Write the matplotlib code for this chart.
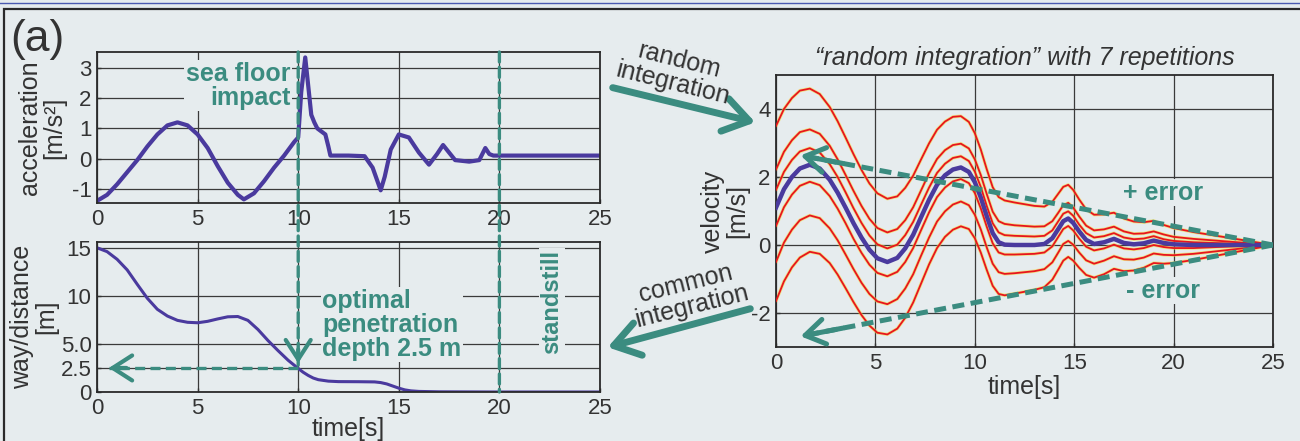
import numpy as np
import matplotlib.pyplot as plt
from matplotlib.patches import FancyArrowPatch, ConnectionPatch, Rectangle
from matplotlib.lines import Line2D

plt.rcParams['font.family'] = ['Liberation Sans', 'DejaVu Sans']
plt.rcParams['axes.unicode_minus'] = False

# acceleration record (top left)
acc_t = [0, 0.5, 1, 1.5, 2, 2.5, 3, 3.5, 4, 4.5, 5, 5.5, 6, 6.5, 7, 7.3, 7.8, 8.3, 8.8, 9.3,
         9.8, 10.0, 10.15, 10.35, 10.5, 10.65, 10.8, 10.95, 11.15, 11.35, 11.5, 11.6, 12.5, 13.3,
         13.7, 14.1, 14.3, 14.6, 15.0, 15.5, 16.0, 16.5, 16.9, 17.2, 17.5, 17.8, 18.5, 19.0,
         19.3, 19.5, 19.7, 20.5, 22, 25]
acc_v = [-1.4, -1.2, -0.85, -0.45, -0.05, 0.4, 0.8, 1.1, 1.2, 1.1, 0.8, 0.35, -0.25, -0.8, -1.2, -1.35,
         -1.15, -0.75, -0.3, 0.1, 0.55, 0.7, 2.2, 3.35, 2.4, 1.45, 1.2, 1.0, 0.9, 0.8, 0.4, 0.1, 0.1, 0.08,
         -0.3, -1.05, -0.6, 0.3, 0.8, 0.7, 0.2, -0.2, 0.15, 0.45, 0.2, -0.05, -0.1, -0.05,
         0.35, 0.15, 0.1, 0.1, 0.1, 0.1]

# way / distance (bottom left)
dist_t = [0, 0.5, 1, 1.5, 2, 2.5, 3, 3.5, 4, 4.5, 5, 5.5, 6, 6.5, 7, 7.5, 8, 8.5, 9, 9.5, 10,
          10.25, 10.5, 10.75, 11, 11.5, 12, 13, 13.8, 14.1, 14.4, 14.7, 15.0, 15.3, 15.6, 16, 17,
          20, 25]
dist_v = [15.0, 14.6, 13.8, 12.7, 11.2, 9.75, 8.6, 7.9, 7.45, 7.25, 7.2, 7.35, 7.6, 7.82, 7.85, 7.45,
          6.5, 5.35, 4.3, 3.3, 2.45, 2.05, 1.72, 1.45, 1.28, 1.13, 1.08, 1.07, 1.05, 0.98, 0.84, 0.62,
          0.4, 0.22, 0.12, 0.06, 0.02, 0, 0]

# velocity (right): common integration and the random repetitions
vel_t = [0, 0.4, 0.8, 1.2, 1.7, 2.2, 2.7, 3.1, 3.5, 3.9, 4.3, 4.7, 5.1, 5.6, 6.1, 6.5, 6.9, 7.3,
         7.7, 8.1, 8.5, 8.9, 9.3, 9.7, 10.0, 10.3, 10.6, 10.9, 11.2, 11.5, 12.0, 13.0, 13.5, 13.9,
         14.2, 14.45, 14.7, 14.95, 15.25, 15.6, 16.0, 16.5, 17.0, 17.5, 18.0, 18.5, 19.0, 19.5,
         20.0, 21, 23, 25]
vel_common = [1.1, 1.64, 2.0, 2.25, 2.36, 2.25, 1.92, 1.54, 1.10, 0.64, 0.22, -0.14, -0.39, -0.5,
              -0.38, -0.1, 0.3, 0.82, 1.33, 1.77, 2.05, 2.22, 2.28, 2.15, 1.85, 1.4, 0.85, 0.35,
              0.08, 0.01, 0, 0, 0.03, 0.2, 0.47, 0.7, 0.78, 0.65, 0.4, 0.15, 0.03, 0.08, 0.18,
              0.06, 0.02, 0.05, 0.13, 0.06, 0.02, 0, 0, 0]
vel_random = [
    [3.50, 4.00, 4.32, 4.54, 4.60, 4.44, 4.06, 3.64, 3.16, 2.67, 2.21, 1.81, 1.52, 1.36, 1.43, 1.68,
     2.04, 2.52, 2.99, 3.39, 3.63, 3.77, 3.79, 3.62, 3.29, 2.81, 2.23, 1.70, 1.41, 1.31, 1.25, 1.15,
     1.13, 1.27, 1.51, 1.71, 1.77, 1.62, 1.34, 1.05, 0.89, 0.90, 0.95, 0.78, 0.69, 0.67, 0.71, 0.59,
     0.50, 0.38, 0.19, 0],
    [2.22, 2.74, 3.08, 3.32, 3.40, 3.27, 2.92, 2.52, 2.06, 1.59, 1.15, 0.77, 0.50, 0.37, 0.47, 0.73,
     1.11, 1.61, 2.11, 2.53, 2.79, 2.94, 2.98, 2.84, 2.52, 2.06, 1.50, 0.98, 0.70, 0.62, 0.58, 0.54,
     0.55, 0.70, 0.95, 1.17, 1.24, 1.10, 0.84, 0.57, 0.43, 0.46, 0.54, 0.40, 0.33, 0.34, 0.40, 0.31,
     0.24, 0.18, 0.09, 0],
    [1.62, 2.15, 2.50, 2.75, 2.85, 2.72, 2.38, 2.00, 1.55, 1.08, 0.65, 0.28, 0.02, -0.10, 0.01, 0.29,
     0.68, 1.19, 1.69, 2.12, 2.39, 2.56, 2.61, 2.47, 2.16, 1.71, 1.15, 0.64, 0.37, 0.29, 0.27, 0.25,
     0.27, 0.43, 0.70, 0.92, 0.99, 0.86, 0.60, 0.35, 0.22, 0.26, 0.35, 0.22, 0.17, 0.19, 0.26, 0.17,
     0.12, 0.08, 0.04, 0],
    [0.56, 1.11, 1.48, 1.74, 1.86, 1.76, 1.44, 1.07, 0.64, 0.18, -0.23, -0.58, -0.82, -0.92, -0.79,
     -0.50, -0.09, 0.44, 0.96, 1.41, 1.69, 1.87, 1.94, 1.82, 1.53, 1.08, 0.54, 0.05, -0.22, -0.28,
     -0.28, -0.26, -0.22, -0.04, 0.24, 0.47, 0.56, 0.43, 0.19, -0.05, -0.16, -0.10, 0.01, -0.10,
     -0.13, -0.09, 0.0, -0.06, -0.09, -0.09, -0.04, 0],
    [-0.50, 0.07, 0.45, 0.73, 0.87, 0.79, 0.49, 0.14, -0.28, -0.71, -1.11, -1.44, -1.66, -1.74, -1.59,
     -1.28, -0.86, -0.31, 0.22, 0.69, 0.99, 1.19, 1.28, 1.17, 0.89, 0.46, -0.07, -0.55, -0.80, -0.85,
     -0.83, -0.77, -0.71, -0.51, -0.22, 0.03, 0.12, 0.01, -0.22, -0.45, -0.55, -0.46, -0.33, -0.42,
     -0.43, -0.37, -0.25, -0.29, -0.30, -0.26, -0.13, 0],
    [-1.65, -1.07, -0.66, -0.37, -0.20, -0.26, -0.53, -0.87, -1.27, -1.68, -2.06, -2.37, -2.58, -2.63,
     -2.46, -2.14, -1.69, -1.13, -0.57, -0.09, 0.24, 0.45, 0.55, 0.47, 0.20, -0.22, -0.73, -1.20,
     -1.44, -1.48, -1.43, -1.32, -1.24, -1.02, -0.72, -0.46, -0.35, -0.46, -0.67, -0.88, -0.96,
     -0.86, -0.70, -0.77, -0.75, -0.67, -0.53, -0.55, -0.53, -0.44, -0.22, 0],
]

time_ticks = [0, 5, 10, 15, 20, 25]
acc_ticks = [-1, 0, 1, 2, 3]
dist_ticks = [0, 2.5, 5.0, 10, 15]
dist_labels = ['0', '2.5', '5.0', '10', '15']
vel_ticks = [-2, 0, 2, 4]

impact_t = 10
standstill_t = 20
depth = 2.5
err_tip_t = 1.1
err_plus = 2.65
err_minus = -2.7

bg = '#e6ecee'
teal = '#3b8c80'
blue = '#4a3a9e'
red = '#e8141e'
ink = '#333333'

W, H = 1300, 441
fig = plt.figure(figsize=(13, 4.41), dpi=100, facecolor=bg)


def px(x, y):
    return (x / W, 1 - y / H)


ax1 = fig.add_axes([97 / W, 1 - 203 / H, 503 / W, 151 / H])
ax2 = fig.add_axes([97 / W, 1 - 392 / H, 503 / W, 150 / H])
ax3 = fig.add_axes([776 / W, 1 - 347 / H, 497 / W, 272 / H])

for ax in (ax1, ax2, ax3):
    ax.set_facecolor('none')
    for s in ax.spines.values():
        s.set_color('#2a2a2a')
        s.set_linewidth(1.3)
    ax.grid(True, color='#3a3a3a', lw=0.9)
    ax.set_axisbelow(True)
    ax.tick_params(direction='in', length=3, width=1, labelsize=16, colors=ink, pad=4)
    ax.set_xlim(0, 25)
    ax.set_xticks(time_ticks)

# top left: acceleration
ax1.plot(acc_t, acc_v, color=blue, lw=3.0)
ax1.set_ylim(-1.47, 3.53)
ax1.set_yticks(acc_ticks)
ax1.set_ylabel('acceleration\n[m/s²]', fontsize=18, color=ink, linespacing=1.0, labelpad=4)
ax1.text(9.6, 2.42, 'sea floor\nimpact', ha='right', va='center', multialignment='right',
         fontsize=18, weight='bold', color=teal, linespacing=1.0,
         bbox=dict(fc=bg, ec='none', pad=1))

# bottom left: distance
ax2.plot(dist_t, dist_v, color=blue, lw=2.2)
ax2.set_ylim(0, 15.6)
ax2.set_yticks(dist_ticks)
ax2.set_yticklabels(dist_labels)
ax2.set_ylabel('way/distance\n[m]', fontsize=18, color=ink, linespacing=1.0, labelpad=2)
ax2.set_xlabel('time[s]', fontsize=18, color=ink, labelpad=-1)
ax2.text(11.2, 7.0, 'optimal\npenetration\ndepth 2.5 m', ha='left', va='center',
         fontsize=18, weight='bold', color=teal, linespacing=1.0,
         bbox=dict(fc=bg, ec='none', pad=1))
ax2.text(22.6, 9.4, 'standstill', rotation=90, ha='center', va='center',
         fontsize=17, weight='bold', color=teal, bbox=dict(fc=bg, ec='none', pad=1))

# dashed markers for impact and standstill across both panels
dash = (0, (3, 1.6))
fig.add_artist(ConnectionPatch(xyA=(impact_t, ax1.get_ylim()[1]), coordsA=ax1.transData,
                               xyB=(impact_t, depth + 0.3), coordsB=ax2.transData,
                               color=teal, lw=2.4, linestyle=dash))
fig.add_artist(ConnectionPatch(xyA=(standstill_t, ax1.get_ylim()[1]), coordsA=ax1.transData,
                               xyB=(standstill_t, 0), coordsB=ax2.transData,
                               color=teal, lw=2.4, linestyle=dash))
ax2.plot([impact_t, 0.6], [depth, depth], color=teal, lw=2.4, linestyle=dash)
head = '->,head_length=0.7,head_width=0.45'
ax2.annotate('', xy=(impact_t, depth + 0.2), xytext=(impact_t, depth + 2.2),
             arrowprops=dict(arrowstyle=head, color=teal, lw=3, mutation_scale=20))
ax2.annotate('', xy=(0.45, depth), xytext=(1.6, depth),
             arrowprops=dict(arrowstyle=head, color=teal, lw=3, mutation_scale=20))

# right: velocity
for v in vel_random:
    ax3.plot(vel_t, v, color='#f5dc40', lw=2.4, alpha=0.6, zorder=2)
    ax3.plot(vel_t, v, color=red, lw=1.3, zorder=3)
ax3.plot(vel_t, vel_common, color=blue, lw=3.2, zorder=4)
ax3.set_ylim(-3, 5)
ax3.set_yticks(vel_ticks)
ax3.set_ylabel('velocity\n[m/s]', fontsize=18, color=ink, linespacing=1.0, labelpad=1)
ax3.set_xlabel('time[s]', fontsize=18, color=ink, labelpad=1)
ax3.set_title('\u201crandom integration\u201d with 7 repetitions', fontsize=18,
              style='italic', color=ink, pad=7)

edash = (0, (2.4, 1.3))
for tip in (err_plus, err_minus):
    ax3.plot([25, err_tip_t + 0.4], [0, tip * (25 - err_tip_t - 0.4) / (25 - err_tip_t)],
             color=teal, lw=3.6, linestyle=edash, zorder=5)
    back = 2.4
    ax3.annotate('', xy=(err_tip_t, tip),
                 xytext=(err_tip_t + back, tip * (25 - err_tip_t - back) / (25 - err_tip_t)),
                 arrowprops=dict(arrowstyle=head, color=teal, lw=3.6, mutation_scale=20),
                 zorder=5)
ax3.text(19.45, 1.53, '+ error', ha='center', va='center', fontsize=18, weight='bold',
         color=teal, bbox=dict(fc=bg, ec='none', pad=1))
ax3.text(19.45, -1.35, '- error', ha='center', va='center', fontsize=18, weight='bold',
         color=teal, bbox=dict(fc=bg, ec='none', pad=1))

# connecting arrows between the panels
big = '->,head_length=0.9,head_width=0.6'
fig.add_artist(FancyArrowPatch(px(610, 87), px(758, 123), transform=fig.transFigure,
                               arrowstyle=big, mutation_scale=20, lw=5, color=teal))
fig.add_artist(FancyArrowPatch(px(753, 308), px(605, 348), transform=fig.transFigure,
                               arrowstyle=big, mutation_scale=20, lw=5, color=teal))
fig.text(*px(676, 72), 'random\nintegration', rotation=-14, ha='center', va='center',
         rotation_mode='anchor', fontsize=18, color=ink, linespacing=1.0)
fig.text(*px(689, 295), 'common\nintegration', rotation=14, ha='center', va='center',
         rotation_mode='anchor', fontsize=18, color=ink, linespacing=1.0)

fig.text(*px(10, 40), '(a)', fontsize=32, ha='left', va='center', color=ink)

# panel frame and page rule
fig.add_artist(Rectangle(px(4, 460), 1.1, (460 - 9) / H, transform=fig.transFigure,
                         fill=False, ec='#2a2a2a', lw=1.6))
fig.add_artist(Line2D([0, 1], [1 - 3 / H] * 2, transform=fig.transFigure, color='#4a5ab0', lw=1))

fig.savefig('out.png', dpi=100, facecolor=bg)
